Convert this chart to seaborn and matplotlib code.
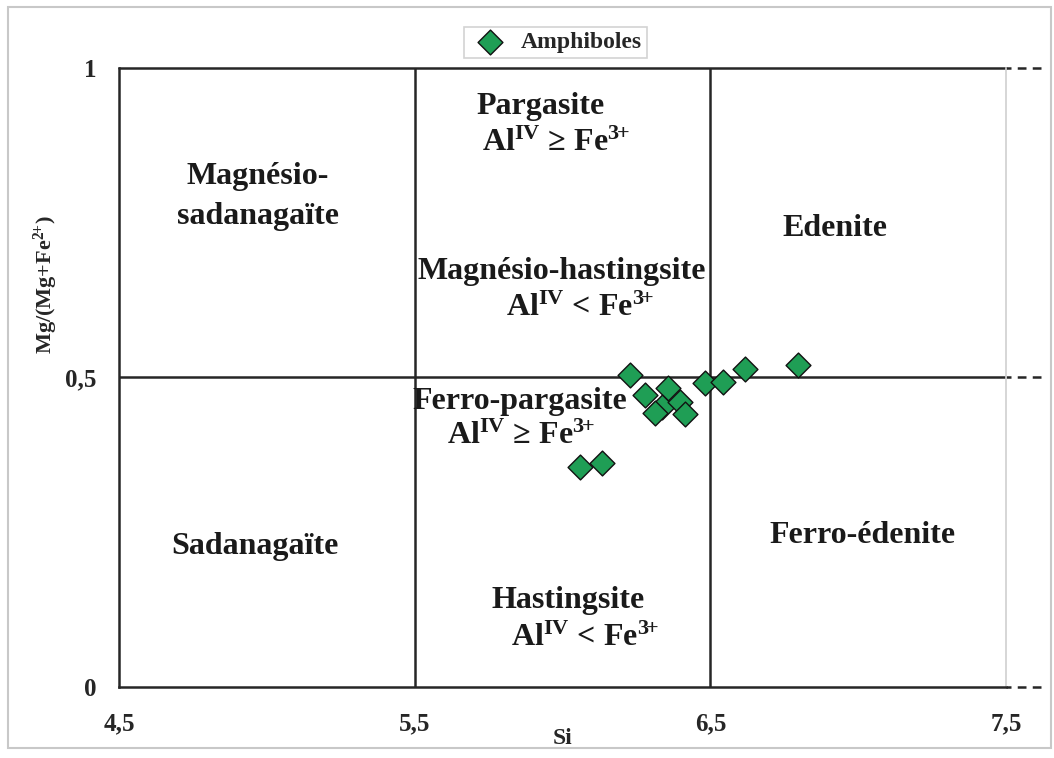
import matplotlib
matplotlib.use("Agg")
import matplotlib.pyplot as plt
from matplotlib.patches import Rectangle
import seaborn as sns
import pandas as pd

# Amphibole compositions: Si (apfu) and Mg/(Mg+Fe2+)
si = [6.228, 6.279, 6.357, 6.336, 6.313, 6.397, 6.414, 6.482, 6.543, 6.617, 6.796, 6.059, 6.133]
mg_ratio = [0.504, 0.472, 0.483, 0.452, 0.443, 0.460, 0.441, 0.491, 0.493, 0.514, 0.520, 0.355, 0.362]
series_name = "Amphiboles"

x_ticks = [4.5, 5.5, 6.5, 7.5]
x_tick_labels = ["4,5", "5,5", "6,5", "7,5"]
y_ticks = [0, 0.5, 1]
y_tick_labels = ["0", "0,5", "1"]

# Field boundaries of the classification diagram
si_bounds = [5.5, 6.5]
mg_bound = 0.5

df = pd.DataFrame({"Si": si, "Mg": mg_ratio, "serie": series_name})

sns.set_theme(style="white")
plt.rcParams["font.family"] = ["Liberation Serif", "DejaVu Serif"]
plt.rcParams["font.weight"] = "bold"
plt.rcParams["mathtext.fontset"] = "custom"
plt.rcParams["mathtext.rm"] = "Liberation Serif:bold"
plt.rcParams["mathtext.bf"] = "Liberation Serif:bold"
plt.rcParams["mathtext.it"] = "Liberation Serif:bold"

fig = plt.figure(figsize=(10.54, 7.58), dpi=100)
ax = fig.add_axes([0.1129, 0.0937, 0.8416, 0.8166])

line_c = "#262626"
lw = 1.8

sns.scatterplot(data=df, x="Si", y="Mg", marker="D", s=160, color="#1f9e55",
                edgecolor="#111111", linewidth=1.0, label=series_name, ax=ax, zorder=5)

ax.set_xlim(4.5, 7.5)
ax.set_ylim(0, 1)

# Field boundaries
for xb in si_bounds:
    ax.plot([xb, xb], [0, 1], color=line_c, lw=lw, zorder=2)
ax.plot([4.5, 7.5], [mg_bound, mg_bound], color=line_c, lw=lw, zorder=2)
ax.plot([4.5, 7.5], [1, 1], color=line_c, lw=lw, zorder=2, clip_on=False)

# Dashed continuations beyond the right edge
for yv in [0, mg_bound, 1]:
    ax.plot([7.5, 7.63], [yv, yv], color=line_c, lw=lw, ls=(1.5, (3.5, 2.5)),
            clip_on=False, zorder=2)

ax.spines["top"].set_visible(False)
ax.spines["right"].set_color("#d0d0d0")
ax.spines["right"].set_linewidth(1.2)
for side in ["left", "bottom"]:
    ax.spines[side].set_color(line_c)
    ax.spines[side].set_linewidth(lw)

ax.set_xticks(x_ticks)
ax.set_xticklabels(x_tick_labels, fontsize=18, fontweight="bold")
ax.set_yticks(y_ticks)
ax.set_yticklabels(y_tick_labels, fontsize=18, fontweight="bold")
ax.tick_params(axis="x", length=0, pad=18)
ax.tick_params(axis="y", length=0, pad=16)

ax.set_xlabel("Si", fontsize=17, fontweight="bold", labelpad=-5)
ax.set_ylabel(r"Mg/(Mg+Fe$^{2\!\!+\!}$)", fontsize=16, fontweight="bold")
ax.yaxis.set_label_coords(-0.066, 0.65)

fs = 23
sup_ge = r"Al$^{\mathrm{IV}}$ ≥ Fe$^{3\!\!+}$"
sup_lt = r"Al$^{\mathrm{IV}}$ < Fe$^{3\!\!+}$"
labels = [
    (4.97, 0.825, "Magnésio-"),
    (4.97, 0.760, "sadanagaïte"),
    (5.927, 0.938, "Pargasite"),
    (5.978, 0.878, sup_ge),
    (5.998, 0.671, "Magnésio-hastingsite"),
    (6.059, 0.612, sup_lt),
    (6.921, 0.740, "Edenite"),
    (5.856, 0.461, "Ferro-pargasite"),
    (5.86, 0.405, sup_ge),
    (4.96, 0.227, "Sadanagaïte"),
    (6.018, 0.139, "Hastingsite"),
    (6.076, 0.079, sup_lt),
    (7.013, 0.244, "Ferro-édenite"),
]
for x, y, t in labels:
    ax.text(x, y, t, fontsize=fs, fontweight="bold", ha="center", va="center",
            color="#1a1a1a", zorder=3)

leg = ax.legend(loc="lower center", bbox_to_anchor=(0.492, 1.005), frameon=True,
                fancybox=False, prop={"size": 17, "weight": "bold"},
                handletextpad=0.4, borderpad=0.2, markerscale=1.0,
                borderaxespad=0.3, handlelength=1.8)
leg.get_frame().set_edgecolor("#c8c8c8")
leg.get_frame().set_linewidth(1.2)

# Outer frame around the figure
fig.patches.append(Rectangle((8 / 1054, 1 - 748 / 758), (1051 - 8) / 1054, (748 - 7) / 758,
                             transform=fig.transFigure, fill=False,
                             edgecolor="#c8c8c8", linewidth=1.5))

fig.savefig("out.png", dpi=100)
